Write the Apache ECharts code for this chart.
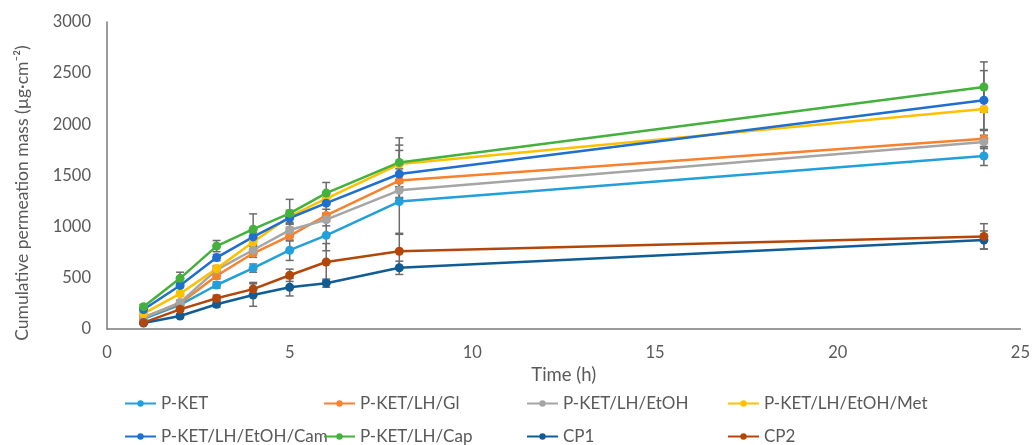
<!DOCTYPE html>
<html>
<head>
<meta charset="utf-8">
<script src="https://cdn.jsdelivr.net/npm/echarts@6/dist/echarts.min.js"></script>
<style>
  html, body { margin: 0; padding: 0; background: #fff; }
  #chart { width: 1033px; height: 445px; }
</style>
</head>
<body>
<div id="chart"></div>
<script>
// sampling times (h)
const times = [1, 2, 3, 4, 5, 6, 8, 24];

// cumulative permeation mass (µg·cm⁻²)
const pKet = [100, 235, 430, 595, 770, 915, 1245, 1690];
const pKetGl = [115, 250, 520, 740, 910, 1110, 1450, 1860];
const pKetEtoh = [110, 260, 578, 772, 967, 1068, 1355, 1828];
const pKetMet = [150, 345, 590, 850, 1100, 1275, 1612, 2150];
const pKetCam = [190, 425, 698, 900, 1085, 1230, 1515, 2235];
const pKetCap = [218, 495, 810, 975, 1130, 1328, 1628, 2365];
const cp1 = [58, 127, 242, 332, 408, 448, 598, 870];
const cp2 = [62, 192, 300, 390, 525, 655, 760, 905];

// standard deviations (error bars)
const errKet = [10, 20, 30, 40, 100, 150, 320, 92];
const errGl = [10, 20, 30, 40, 50, 60, 60, 80];
const errEtoh = [10, 20, 30, 40, 60, 60, 80, 65];
const errMet = [10, 20, 30, 40, 60, 60, 185, 200];
const errCam = [10, 20, 30, 40, 60, 100, 230, 290];
const errCap = [20, 60, 55, 150, 137, 104, 240, 245];
const errCp1 = [10, 20, 30, 110, 85, 40, 65, 88];
const errCp2 = [10, 20, 30, 65, 60, 180, 175, 124];

const names = ["P-KET", "P-KET/LH/Gl", "P-KET/LH/EtOH", "P-KET/LH/EtOH/Met",
  "P-KET/LH/EtOH/Cam", "P-KET/LH/Cap", "CP1", "CP2"];
const colors = ["#21a0db", "#f7812e", "#a5a5a5", "#ffc000",
  "#1e6fd0", "#43b13b", "#105d96", "#b3470b"];
const values = [pKet, pKetGl, pKetEtoh, pKetMet, pKetCam, pKetCap, cp1, cp2];
const errors = [errKet, errGl, errEtoh, errMet, errCam, errCap, errCp1, errCp2];

// legend positions [left, top]
const legendPos = [[124, 395], [323, 395], [526, 395], [727, 395],
  [124, 428], [323, 428], [526, 428], [727, 428]];

const chart = echarts.init(document.getElementById("chart"));

const textColor = "#595959";
const font = "Lato, 'Open Sans', sans-serif";

const errData = [];
values.forEach((vals, i) => {
  vals.forEach((v, j) => {
    errData.push([times[j], v - errors[i][j], v + errors[i][j]]);
  });
});

const series = names.map((name, i) => ({
  name: name,
  type: "line",
  data: times.map((t, j) => [t, values[i][j]]),
  symbol: "circle",
  symbolSize: 9,
  color: colors[i],
  lineStyle: { width: 2.5 },
  z: 3,
}));

series.push({
  type: "custom",
  name: "err",
  data: errData,
  encode: { x: 0, y: [1, 2] },
  z: 2,
  silent: true,
  renderItem: function (params, api) {
    const x = api.value(0);
    const top = api.coord([x, api.value(2)]);
    const bot = api.coord([x, api.value(1)]);
    const w = 4;
    const st = { stroke: "#6b6b6b", lineWidth: 1.5 };
    return {
      type: "group",
      children: [
        { type: "line", shape: { x1: top[0], y1: top[1], x2: bot[0], y2: bot[1] }, style: st },
        { type: "line", shape: { x1: top[0] - w, y1: top[1], x2: top[0] + w, y2: top[1] }, style: st },
        { type: "line", shape: { x1: bot[0] - w, y1: bot[1], x2: bot[0] + w, y2: bot[1] }, style: st },
      ],
    };
  },
});

const legends = names.map((name, i) => ({
  data: [name],
  left: legendPos[i][0],
  top: legendPos[i][1],
  padding: 0,
  itemWidth: 31,
  itemHeight: 8,
  textStyle: { color: textColor, fontSize: 17, fontFamily: font },
}));

const options = {
  animation: false,
  grid: { left: 107, right: 11, top: 22, bottom: 116 },
  legend: legends,
  graphic: [{
    type: "text",
    x: 22,
    y: 193,
    rotation: Math.PI / 2,
    style: {
      text: "Cumulative permeation mass (µg·cm⁻²)",
      fill: textColor,
      font: "17.5px " + font,
      textAlign: "center",
      textVerticalAlign: "middle",
    },
  }],
  xAxis: {
    type: "value",
    min: 0,
    max: 25,
    interval: 5,
    name: "Time (h)",
    nameLocation: "middle",
    nameGap: 36,
    nameTextStyle: { color: textColor, fontSize: 18.5, fontFamily: font },
    axisLine: { lineStyle: { color: "#7a7a7a", width: 1.5 } },
    axisTick: { show: false },
    splitLine: { show: false },
    axisLabel: { color: textColor, fontSize: 16.5, fontFamily: font, margin: 15 },
  },
  yAxis: {
    type: "value",
    min: 0,
    max: 3000,
    interval: 500,
    axisLine: { show: true, lineStyle: { color: "#7a7a7a", width: 1.5 } },
    axisTick: { show: false },
    splitLine: { show: false },
    axisLabel: {
      color: textColor, fontSize: 16.5, fontFamily: font, margin: 16,
      formatter: (v) => String(v),
    },
  },
  series: series,
};

chart.setOption(options);
</script>
</body>
</html>
